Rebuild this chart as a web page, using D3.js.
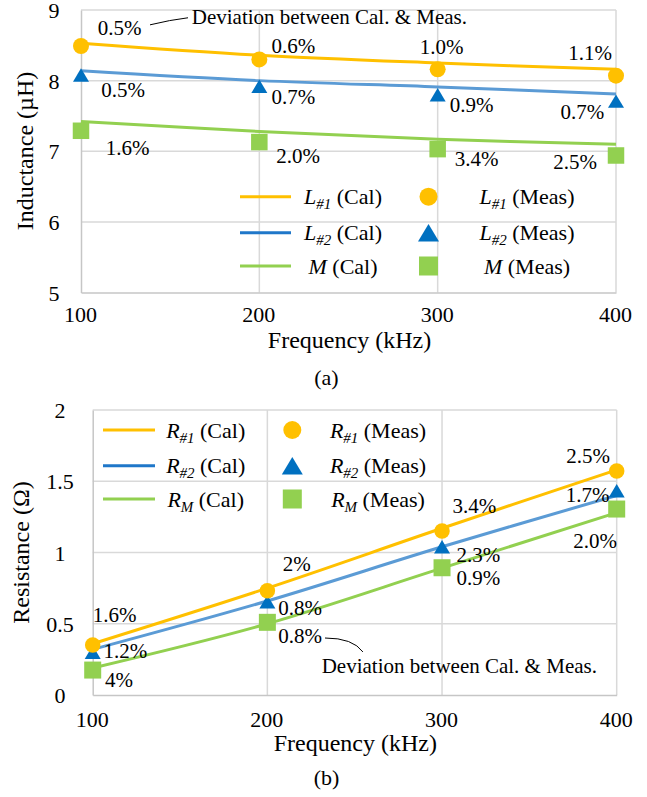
<!DOCTYPE html>
<html>
<head>
<meta charset="utf-8">
<script src="https://cdn.jsdelivr.net/npm/d3@7"></script>
<style>
  html, body { margin: 0; padding: 0; background: #fff; }
  svg { display: block; }
  svg text { font-family: 'Liberation Serif', 'Times New Roman', Times, Tinos, 'Noto Serif', 'DejaVu Serif', FreeSerif, serif; }
</style>
</head>
<body>
<script>
// ---- shared ----
const freqs = [100, 200, 300, 400];          // kHz
const freqTicks = [100, 200, 300, 400];

// ---- (a) inductance, µH ----
const L1Cal  = [8.53, 8.36, 8.25, 8.16];
const L1Meas = [8.49, 8.30, 8.16, 8.07];
const L2Cal  = [8.14, 8.00, 7.91, 7.81];
const L2Meas = [8.08, 7.92, 7.80, 7.71];
const MCal   = [7.42, 7.28, 7.17, 7.10];
const MMeas  = [7.29, 7.13, 7.03, 6.94];
const L1Dev  = ["0.5%", "0.6%", "1.0%", "1.1%"];
const L2Dev  = ["0.5%", "0.7%", "0.9%", "0.7%"];
const MDev   = ["1.6%", "2.0%", "3.4%", "2.5%"];
const inductanceTicks = [5, 6, 7, 8, 9];

// ---- (b) resistance, Ω ----
const R1Cal  = [0.36, 0.75, 1.17, 1.58];
const R1Meas = [0.351, 0.732, 1.151, 1.572];
const R2Cal  = [0.32, 0.66, 1.04, 1.40];
const R2Meas = [0.30, 0.655, 1.04, 1.434];
const RMCal  = [0.19, 0.50, 0.89, 1.28];
const RMMeas = [0.175, 0.51, 0.893, 1.305];
const R1Dev  = ["1.6%", "2%", "3.4%", "2.5%"];
const R2Dev  = ["1.2%", "0.8%", "2.3%", "1.7%"];
const RMDev  = ["4%", "0.8%", "0.9%", "2.0%"];
const resistanceTicks = [0, 0.5, 1, 1.5, 2];

// ---- styling ----
const YELLOW = "#FFC000", BLUE = "#0070C0", BLUE_LINE = "#5B9BD5", GREEN = "#92D050";
const GRID = "#d9d9d9", AXIS = "#c6c6c6";
const SERIF = "'Liberation Serif', 'Times New Roman', Times, Tinos, 'Noto Serif', 'DejaVu Serif', FreeSerif, serif";

const svg = d3.select("body").append("svg")
  .attr("width", 647).attr("height", 797)
  .attr("font-family", SERIF)
  .style("background", "#fff");

// rich text: parts = [{t, i (italic), sub}]
function richText(g, parts, x, y, size, anchor) {
  const t = g.append("text")
    .attr("x", x).attr("y", y)
    .attr("font-size", size)
    .attr("font-family", SERIF)
    .attr("text-anchor", anchor || "middle")
    .attr("fill", "#000");
  let shifted = 0;
  parts.forEach(p => {
    const s = t.append("tspan").text(p.t);
    if (p.i) s.attr("font-style", "italic");
    const want = p.sub ? size * 0.24 : 0;
    if (want !== shifted) { s.attr("dy", want - shifted); shifted = want; }
    if (p.sub) s.attr("font-size", size * 0.68);
  });
  return t;
}

function marker(sel, shape, size, color) {
  if (shape === "circle") {
    return sel.append("circle").attr("r", size / 2).attr("fill", color);
  }
  if (shape === "square") {
    return sel.append("rect").attr("x", -size / 2).attr("y", -size / 2)
      .attr("width", size).attr("height", size).attr("fill", color);
  }
  const h = size * 0.84;
  return sel.append("path")
    .attr("d", `M0,${-h / 2}L${size / 2},${h / 2}L${-size / 2},${h / 2}Z`)
    .attr("fill", color);
}

function label(g, x, y, size, str, anchor) {
  return g.append("text").attr("x", x).attr("y", y)
    .attr("text-anchor", anchor || "middle").attr("font-size", size)
    .attr("font-family", SERIF).attr("fill", "#000").text(str);
}

function drawPanel(cfg) {
  const g = svg.append("g");
  const x = d3.scaleLinear().domain([100, 400]).range(cfg.xRange);
  const y = d3.scaleLinear().domain(cfg.yDomain).range(cfg.yRange);
  const [x0, x1] = cfg.xRange, [yb, yt] = cfg.yRange;

  // gridlines
  g.append("g").selectAll("line.h").data(cfg.yTicks.slice(1)).join("line")
    .attr("x1", x0).attr("x2", x1).attr("y1", d => y(d)).attr("y2", d => y(d))
    .attr("stroke", GRID).attr("stroke-width", 1.5);
  g.append("g").selectAll("line.v").data(freqTicks.slice(1)).join("line")
    .attr("x1", d => x(d)).attr("x2", d => x(d)).attr("y1", yb).attr("y2", yt)
    .attr("stroke", GRID).attr("stroke-width", 1.5);

  // axes
  const ya = g.append("g").attr("transform", `translate(${x0},0)`)
    .call(d3.axisLeft(y).tickValues(cfg.yTicks).tickSize(0).tickFormat(d3.format("")));
  ya.attr("font-family", SERIF);
  ya.select(".domain").attr("stroke", AXIS).attr("stroke-width", 1.5);
  ya.selectAll("text").attr("x", cfg.yLabelDx).attr("dy", "0.35em")
    .attr("text-anchor", "middle").attr("font-size", 22)
    .attr("font-family", SERIF).attr("fill", "#000");

  const xa = g.append("g").attr("transform", `translate(0,${yb})`)
    .call(d3.axisBottom(x).tickValues(freqTicks).tickSize(0).tickFormat(d3.format("")));
  xa.attr("font-family", SERIF);
  xa.select(".domain").attr("stroke", AXIS).attr("stroke-width", 1.5);
  xa.selectAll("text").attr("y", cfg.xLabelDy).attr("dy", 0).attr("dx", -1)
    .attr("font-size", 22).attr("font-family", SERIF).attr("fill", "#000");

  // axis titles
  label(g, cfg.xTitle[0], cfg.xTitle[1], 24, "Frequency (kHz)");
  label(g, 0, 0, 24, cfg.yTitleText)
    .attr("transform", `translate(${cfg.yTitle[0]},${cfg.yTitle[1]}) rotate(-90)`)
    .attr("dy", "0.35em");
  label(g, cfg.caption[0], cfg.caption[1], 22, cfg.captionText);

  // calculated curves
  const line = d3.line().x((d, i) => x(freqs[i])).y(d => y(d)).curve(d3.curveCatmullRom);
  cfg.series.forEach(s => {
    g.append("path").attr("d", line(s.cal)).attr("fill", "none")
      .attr("stroke", s.lineColor).attr("stroke-width", 3);
  });

  // measured markers (bottom series first)
  cfg.series.slice().reverse().forEach(s => {
    s.meas.forEach((v, i) => {
      const m = g.append("g").attr("transform", `translate(${x(freqs[i])},${y(v)})`);
      marker(m, s.shape, s.size, s.color);
    });
  });

  // deviation labels
  cfg.series.forEach(s => {
    s.meas.forEach((v, i) => {
      label(g, x(freqs[i]) + s.labelOffsets[i][0], y(v) + s.labelOffsets[i][1], 21, s.dev[i]);
    });
  });

  // callout
  const n = cfg.note;
  g.append("path")
    .attr("d", `M${x(n.from[0])},${y(n.from[1])}Q${x(n.ctrl[0])},${y(n.ctrl[1])} ${x(n.to[0])},${y(n.to[1])}`)
    .attr("fill", "none").attr("stroke", "#000").attr("stroke-width", 1);
  label(g, x(n.at[0]), y(n.at[1]), 21, "Deviation between Cal. & Meas.", "start");

  // legend
  const L = cfg.legend;
  cfg.series.forEach((s, k) => {
    const ry = L.rows[k];
    g.append("line").attr("x1", L.lineX[0]).attr("x2", L.lineX[1])
      .attr("y1", ry).attr("y2", ry).attr("stroke", s.legendLine).attr("stroke-width", 3);
    richText(g, s.name.concat([{ t: " (Cal)" }]), L.calX, ry + 7.5, 22);
    const m = g.append("g").attr("transform", `translate(${L.markX},${ry})`);
    marker(m, s.shape, s.legendSize, s.color);
    richText(g, s.name.concat([{ t: " (Meas)" }]), L.measX, ry + 7.5, 22);
  });
}

// (a) inductance
drawPanel({
  xRange: [81, 616], yDomain: [5, 9], yRange: [292.5, 10],
  yTicks: inductanceTicks, yLabelDx: -27, xLabelDy: 29,
  xTitle: [349.5, 348], yTitle: [25, 151], yTitleText: "Inductance (µH)",
  caption: [326.5, 385], captionText: "(a)",
  series: [
    { name: [{ t: "L", i: true }, { t: "#1", i: true, sub: true }],
      cal: L1Cal, meas: L1Meas, dev: L1Dev, lineColor: YELLOW, legendLine: YELLOW,
      color: YELLOW, shape: "circle", size: 16, legendSize: 18,
      labelOffsets: [[38.5, -10.7], [34, -6.6], [4, -15.7], [-26, -15.3]] },
    { name: [{ t: "L", i: true }, { t: "#2", i: true, sub: true }],
      cal: L2Cal, meas: L2Meas, dev: L2Dev, lineColor: BLUE_LINE, legendLine: "#1f77c9",
      color: BLUE, shape: "triangle", size: 16, legendSize: 21,
      labelOffsets: [[42, 21.7], [34, 17.7], [34, 17.2], [-33.7, 17.5]] },
    { name: [{ t: "M", i: true }],
      cal: MCal, meas: MMeas, dev: MDev, lineColor: GREEN, legendLine: GREEN,
      color: GREEN, shape: "square", size: 16.5, legendSize: 19,
      labelOffsets: [[46.5, 24], [38.7, 20.6], [39, 16.7], [-41, 14]] }
  ],
  note: { from: [138.7, 8.79], ctrl: [150, 8.86], to: [160, 8.89], at: [162.1, 8.80] },
  legend: { rows: [196.7, 232.7, 266], lineX: [240, 291], calX: 343, markX: 428.5, measX: 527 }
});

// (b) resistance
drawPanel({
  xRange: [92.7, 616.7], yDomain: [0, 2], yRange: [695, 410],
  yTicks: resistanceTicks, yLabelDx: -32.7, xLabelDy: 31.7,
  xTitle: [355.3, 750.7], yTitle: [21, 552.5], yTitleText: "Resistance (Ω)",
  caption: [326.5, 785], captionText: "(b)",
  series: [
    { name: [{ t: "R", i: true }, { t: "#1", i: true, sub: true }],
      cal: R1Cal, meas: R1Meas, dev: R1Dev, lineColor: YELLOW, legendLine: YELLOW,
      color: YELLOW, shape: "circle", size: 15.5, legendSize: 18,
      labelOffsets: [[21.8, -22.7], [29.3, -20], [32.3, -18.3], [-28.7, -8.3]] },
    { name: [{ t: "R", i: true }, { t: "#2", i: true, sub: true }],
      cal: R2Cal, meas: R2Meas, dev: R2Dev, lineColor: BLUE_LINE, legendLine: "#1f77c9",
      color: BLUE, shape: "triangle", size: 16, legendSize: 21,
      labelOffsets: [[32.6, 6], [32.8, 13.3], [36.3, 15.6], [-29.2, 11]] },
    { name: [{ t: "R", i: true }, { t: "M", i: true, sub: true }],
      cal: RMCal, meas: RMMeas, dev: RMDev, lineColor: GREEN, legendLine: GREEN,
      color: GREEN, shape: "square", size: 17, legendSize: 19,
      labelOffsets: [[26.3, 17.3], [32.8, 21], [36.3, 17.3], [-21.7, 39.3]] }
  ],
  note: { from: [233, 0.40], ctrl: [249, 0.40], to: [254.7, 0.302], at: [231.1, 0.156] },
  legend: { rows: [430, 465.7, 499], lineX: [103, 155], calX: 205.7, markX: 292.3, measX: 378 }
});
</script>
</body>
</html>
